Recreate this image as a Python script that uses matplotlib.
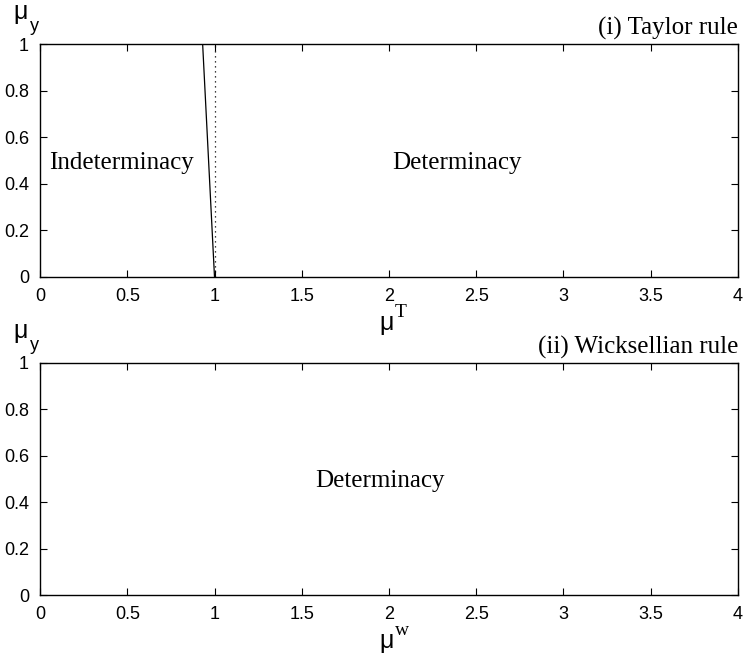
import matplotlib
matplotlib.use("Agg")
import matplotlib.pyplot as plt

# boundary of the determinacy region, Taylor rule (mu_T at mu_y = 0 and 1)
boundary_mu_y = [0.0, 1.0]
boundary_mu_T = [1.0, 0.932]
# reference line mu_T = 1
ref_mu_T = [1.0, 1.0]
ref_mu_y = [0.0, 1.0]

x_ticks = [0, 0.5, 1, 1.5, 2, 2.5, 3, 3.5, 4]
x_tick_labels = ["0", "0.5", "1", "1.5", "2", "2.5", "3", "3.5", "4"]
y_ticks = [0, 0.2, 0.4, 0.6, 0.8, 1]
y_tick_labels = ["0", "0.2", "0.4", "0.6", "0.8", "1"]

panel_titles = ["(i) Taylor rule", "(ii) Wicksellian rule"]
x_sup = ["T", "w"]

sans = "Liberation Sans"
serif = "Liberation Serif"

fig = plt.figure(figsize=(7.45, 6.59), dpi=100)
ax1 = fig.add_axes([0.0537, 0.5797, 0.9369, 0.3535])
ax2 = fig.add_axes([0.0537, 0.0971, 0.9369, 0.3521])

for i, ax in enumerate([ax1, ax2]):
    ax.set_xlim(0, 4)
    ax.set_ylim(0, 1)
    ax.set_xticks(x_ticks)
    ax.set_xticklabels(x_tick_labels, fontfamily=sans, fontsize=13)
    ax.set_yticks(y_ticks)
    ax.set_yticklabels(y_tick_labels, fontfamily=sans, fontsize=13)
    ax.tick_params(direction="in", top=True, right=True, length=5, width=0.8,
                   pad=8)
    for s in ax.spines.values():
        s.set_linewidth(1.0)
    ax.text(1.0, 1.018, panel_titles[i], transform=ax.transAxes, ha="right",
            va="bottom", fontfamily=serif, fontsize=18)
    # y label mu_y at top-left
    ax.text(-0.038, 1.085, "μ", transform=ax.transAxes, ha="left", va="bottom",
            fontfamily=sans, fontsize=18)
    ax.text(-0.015, 1.04, "y", transform=ax.transAxes, ha="left", va="bottom",
            fontfamily=sans, fontsize=13)
    # x label mu^T / mu^w
    ax.text(0.496, -0.145, "μ", transform=ax.transAxes, ha="center", va="top",
            fontfamily=sans, fontsize=18)
    ax.text(0.508, -0.115, x_sup[i], transform=ax.transAxes, ha="left",
            va="top", fontfamily=serif, fontsize=14)

ax1.plot(boundary_mu_T, boundary_mu_y, color="black", linewidth=0.9)
ax1.plot(ref_mu_T, ref_mu_y, color="black", linewidth=0.9, linestyle=(0, (1, 3)))
ax1.text(0.467, 0.49, "Indeterminacy", ha="center", va="center",
         fontfamily=serif, fontsize=18)
ax1.text(2.39, 0.49, "Determinacy", ha="center", va="center",
         fontfamily=serif, fontsize=18)
ax2.text(1.95, 0.49, "Determinacy", ha="center", va="center",
         fontfamily=serif, fontsize=18)

fig.savefig("out.png", dpi=100)
